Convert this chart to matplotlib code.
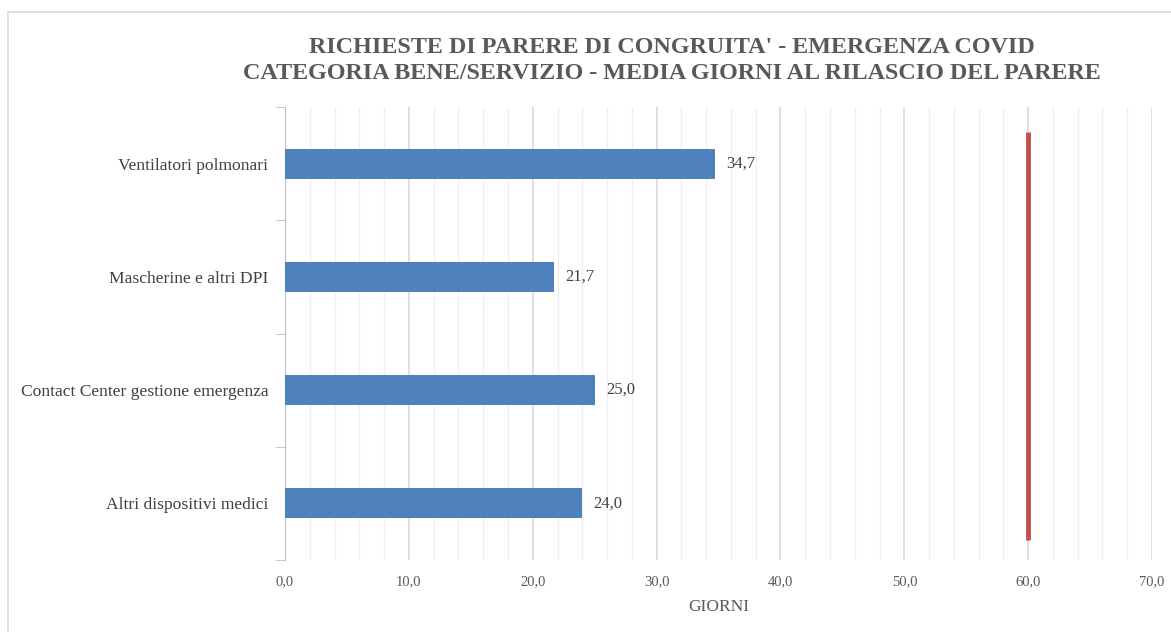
import matplotlib.pyplot as plt
from matplotlib.lines import Line2D
import numpy as np

categories = ["Ventilatori polmonari", "Mascherine e altri DPI",
              "Contact Center gestione emergenza", "Altri dispositivi medici"]
media_giorni = [34.7, 21.7, 25.0, 24.0]
soglia = 60.0
x_ticks = [0, 10, 20, 30, 40, 50, 60, 70]

title = ("RICHIESTE DI PARERE DI CONGRUITA' - EMERGENZA COVID\n"
         "CATEGORIA BENE/SERVIZIO - MEDIA GIORNI AL RILASCIO DEL PARERE")

plt.rcParams['font.family'] = ['Liberation Serif', 'DejaVu Serif']
text_col = "#595959"

fig = plt.figure(figsize=(11.71, 6.32), dpi=100)
ax = fig.add_axes([0.2434, 0.1139, 0.7404, 0.7168])

# chart frame
fig.add_artist(Line2D([0.007, 0.007], [0, 0.981], color="#d9d9d9", lw=1.2, transform=fig.transFigure))
fig.add_artist(Line2D([0.007, 1.0], [0.981, 0.981], color="#d9d9d9", lw=1.2, transform=fig.transFigure))

y = np.arange(len(categories))
bars = ax.barh(y, media_giorni, height=0.265, color="#4F81BD", zorder=3)
for b, v in zip(bars, media_giorni):
    ax.text(v + 0.9, b.get_y() + b.get_height() / 2, f"{v:.1f}".replace(".", ","),
            va="center", ha="left", fontsize=12, color="#404040")

# threshold line at 60 days
ax.vlines(soglia, -0.28, 3.32, color="#C0504D", lw=3.5, zorder=4)

ax.set_xlim(0, 70)
ax.set_ylim(3.5, -0.5)
ax.set_xticks(x_ticks)
ax.set_xticklabels([f"{t:.1f}".replace(".", ",") for t in x_ticks], fontsize=10.5, color=text_col)
ax.set_xticks(np.arange(0, 71, 2), minor=True)
ax.grid(axis="x", which="major", color="#d9d9d9", lw=1.2, zorder=0)
ax.grid(axis="x", which="minor", color="#f0f0f0", lw=1.0, zorder=0)
ax.tick_params(axis="x", which="both", length=0, pad=11)

ax.set_yticks(y)
ax.set_yticklabels(categories, fontsize=12.6, color="#404040")
ax.set_yticks(np.arange(-0.5, 3.6, 1), minor=True)
ax.tick_params(axis="y", which="major", length=0, pad=12)
ax.tick_params(axis="y", which="minor", length=7, color="#bfbfbf")

for s in ["top", "right", "bottom"]:
    ax.spines[s].set_visible(False)
ax.spines["left"].set_color("#bfbfbf")

ax.set_xlabel("GIORNI", fontsize=12.5, color=text_col, labelpad=8)
fig.text(0.574, 0.904, title, ha="center", va="center", fontsize=17.4,
         fontweight="bold", color=text_col, linespacing=1.35)

fig.savefig("out.png", dpi=100, facecolor="white")
